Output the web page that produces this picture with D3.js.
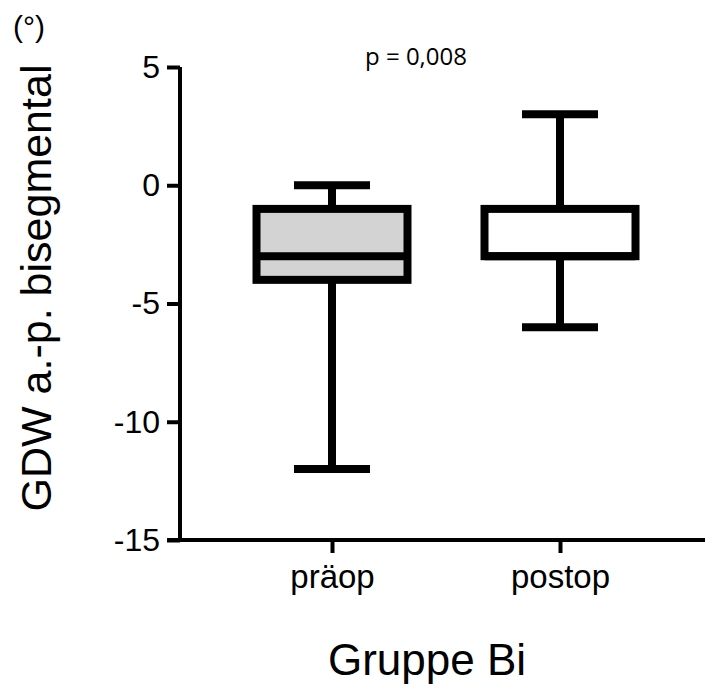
<!DOCTYPE html>
<html>
<head>
<meta charset="utf-8">
<script src="https://cdn.jsdelivr.net/npm/d3@7"></script>
<style>
  html, body { margin: 0; padding: 0; background: #fff; }
  svg { display: block; }
</style>
</head>
<body>
<svg id="chart" width="705" height="684"></svg>
<script>
// Box-plot summary per group: whisker min, Q1, median, Q3, whisker max
const groups = ["präop", "postop"];
const whiskerLow = [-12, -6];
const q1 = [-4, -3];
const median = [-3, -3];
const q3 = [-1, -1];
const whiskerHigh = [0, 3];
const boxFill = ["#d3d3d3", "#ffffff"];
const yTicks = [5, 0, -5, -10, -15];
const pText = "p = 0,008";

const svg = d3.select("#chart");
const sans = "'Liberation Sans', Arial, sans-serif";

const y = d3.scaleLinear().domain([-15, 5]).range([540, 67]);
const x = d3.scalePoint().domain(groups).range([332, 560]);

const boxW = 151, capW = 76, lw = 8, axisW = 4;

// y axis
const yAxis = svg.append("g").attr("transform", "translate(180,0)")
  .call(d3.axisLeft(y).tickValues(yTicks).tickSize(13).tickPadding(7)
        .tickFormat(d => d));
yAxis.attr("font-size", null).attr("font-family", null);
yAxis.select(".domain").attr("stroke", "#000").attr("stroke-width", axisW)
  .attr("d", `M0,${y(5)}V${y(-15) + axisW / 2}`);
yAxis.selectAll(".tick line").attr("stroke", "#000").attr("stroke-width", axisW);
yAxis.selectAll(".tick text").style("font-family", sans).style("font-size", "32px")
  .attr("fill", "#000");

// x axis
const xAxis = svg.append("g").attr("transform", `translate(0,${y(-15)})`)
  .call(d3.axisBottom(x).tickSize(13).tickPadding(12));
xAxis.attr("font-size", null).attr("font-family", null);
xAxis.select(".domain").attr("stroke", "#000").attr("stroke-width", axisW)
  .attr("d", `M167,0H705`);
xAxis.selectAll(".tick line").attr("stroke", "#000").attr("stroke-width", axisW);
xAxis.selectAll(".tick text").style("font-family", sans).style("font-size", "33px")
  .attr("fill", "#000");

// boxes
const rows = groups.map((g, i) => ({
  g, lo: whiskerLow[i], q1: q1[i], med: median[i], q3: q3[i], hi: whiskerHigh[i], fill: boxFill[i]
}));
const box = svg.append("g").selectAll("g").data(rows).join("g");

box.append("line")
  .attr("x1", d => x(d.g)).attr("x2", d => x(d.g))
  .attr("y1", d => y(d.hi)).attr("y2", d => y(d.q3))
  .attr("stroke", "#000").attr("stroke-width", lw);
box.append("line")
  .attr("x1", d => x(d.g)).attr("x2", d => x(d.g))
  .attr("y1", d => y(d.q1)).attr("y2", d => y(d.lo))
  .attr("stroke", "#000").attr("stroke-width", lw);
box.append("line")
  .attr("x1", d => x(d.g) - capW / 2).attr("x2", d => x(d.g) + capW / 2)
  .attr("y1", d => y(d.hi)).attr("y2", d => y(d.hi))
  .attr("stroke", "#000").attr("stroke-width", lw);
box.append("line")
  .attr("x1", d => x(d.g) - capW / 2).attr("x2", d => x(d.g) + capW / 2)
  .attr("y1", d => y(d.lo)).attr("y2", d => y(d.lo))
  .attr("stroke", "#000").attr("stroke-width", lw);
box.append("rect")
  .attr("x", d => x(d.g) - boxW / 2).attr("width", boxW)
  .attr("y", d => y(d.q3)).attr("height", d => y(d.q1) - y(d.q3))
  .attr("fill", d => d.fill).attr("stroke", "#000").attr("stroke-width", lw);
box.append("line")
  .attr("x1", d => x(d.g) - boxW / 2).attr("x2", d => x(d.g) + boxW / 2)
  .attr("y1", d => y(d.med)).attr("y2", d => y(d.med))
  .attr("stroke", "#000").attr("stroke-width", lw);

// annotation and titles
svg.append("text").attr("x", 416).attr("y", 65).attr("text-anchor", "middle")
  .style("font-family", "'Open Sans', sans-serif").style("font-size", "24px")
  .attr("fill", "#000").text(pText);

svg.append("text")
  .attr("transform", "translate(51,288) rotate(-90)")
  .attr("text-anchor", "middle")
  .style("font-family", sans).style("font-size", "43px").attr("fill", "#000")
  .text("GDW a.-p. bisegmental");

svg.append("text").attr("x", 13).attr("y", 37)
  .style("font-family", sans).style("font-size", "30px").attr("fill", "#000")
  .text("(°)");

svg.append("text").attr("x", 427).attr("y", 675).attr("text-anchor", "middle")
  .style("font-family", sans).style("font-size", "44px").attr("fill", "#000")
  .text("Gruppe Bi");
</script>
</body>
</html>
